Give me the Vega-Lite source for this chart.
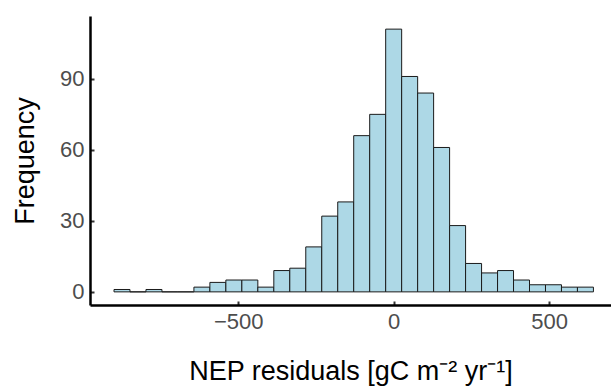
{
  "$schema": "https://vega.github.io/schema/vega-lite/v6.json",
  "width": 521,
  "height": 289,
  "autosize": "none",
  "padding": {"left": 90, "top": 16, "right": 0, "bottom": 82},
  "background": "white",
  "config": {
    "view": {"stroke": null},
    "font": "Liberation Sans",
    "axis": {
      "grid": false,
      "domainColor": "black",
      "domainWidth": 2.5,
      "tickColor": "#333333",
      "tickWidth": 2,
      "tickSize": -4,
      "labelColor": "#4d4d4d",
      "labelFont": "Liberation Sans",
      "labelFontSize": 22,
      "titleFont": "Liberation Sans",
      "titleFontSize": 27,
      "titleFontWeight": "normal",
      "titleColor": "black"
    }
  },
  "data": {
    "values": [
      {"start": -899.5, "end": -848.1, "count": 1},
      {"start": -848.1, "end": -796.7, "count": 0},
      {"start": -796.7, "end": -745.3, "count": 1},
      {"start": -745.3, "end": -693.9, "count": 0},
      {"start": -693.9, "end": -642.5, "count": 0},
      {"start": -642.5, "end": -591.1, "count": 2},
      {"start": -591.1, "end": -539.7, "count": 4},
      {"start": -539.7, "end": -488.3, "count": 5},
      {"start": -488.3, "end": -436.9, "count": 5},
      {"start": -436.9, "end": -385.5, "count": 2},
      {"start": -385.5, "end": -334.1, "count": 9},
      {"start": -334.1, "end": -282.7, "count": 10},
      {"start": -282.7, "end": -231.3, "count": 19},
      {"start": -231.3, "end": -179.9, "count": 32},
      {"start": -179.9, "end": -128.5, "count": 38},
      {"start": -128.5, "end": -77.1, "count": 66},
      {"start": -77.1, "end": -25.7, "count": 75},
      {"start": -25.7, "end": 25.7, "count": 111},
      {"start": 25.7, "end": 77.1, "count": 91},
      {"start": 77.1, "end": 128.5, "count": 84},
      {"start": 128.5, "end": 179.9, "count": 61},
      {"start": 179.9, "end": 231.3, "count": 28},
      {"start": 231.3, "end": 282.7, "count": 12},
      {"start": 282.7, "end": 334.1, "count": 8},
      {"start": 334.1, "end": 385.5, "count": 9},
      {"start": 385.5, "end": 436.9, "count": 5},
      {"start": 436.9, "end": 488.3, "count": 3},
      {"start": 488.3, "end": 539.7, "count": 3},
      {"start": 539.7, "end": 591.1, "count": 2},
      {"start": 591.1, "end": 642.5, "count": 2}
    ]
  },
  "mark": {"type": "rect", "fill": "#ADD8E6", "stroke": "#1a1a1a", "strokeWidth": 1},
  "encoding": {
    "x": {
      "field": "start",
      "type": "quantitative",
      "scale": {"domain": [-976.7, 699], "nice": false, "zero": false},
      "axis": {
        "values": [-500, 0, 500],
        "title": "NEP residuals [gC m⁻² yr⁻¹]",
        "titleY": 74,
        "titleBaseline": "alphabetic",
        "labelPadding": 10
      }
    },
    "x2": {"field": "end"},
    "y": {
      "field": "count",
      "type": "quantitative",
      "scale": {"domain": [-5.55, 116.55], "nice": false, "zero": false},
      "axis": {
        "values": [0, 30, 60, 90],
        "title": "Frequency",
        "titleX": -57,
        "titleBaseline": "alphabetic",
        "labelPadding": 10
      }
    },
    "y2": {"datum": 0}
  }
}
